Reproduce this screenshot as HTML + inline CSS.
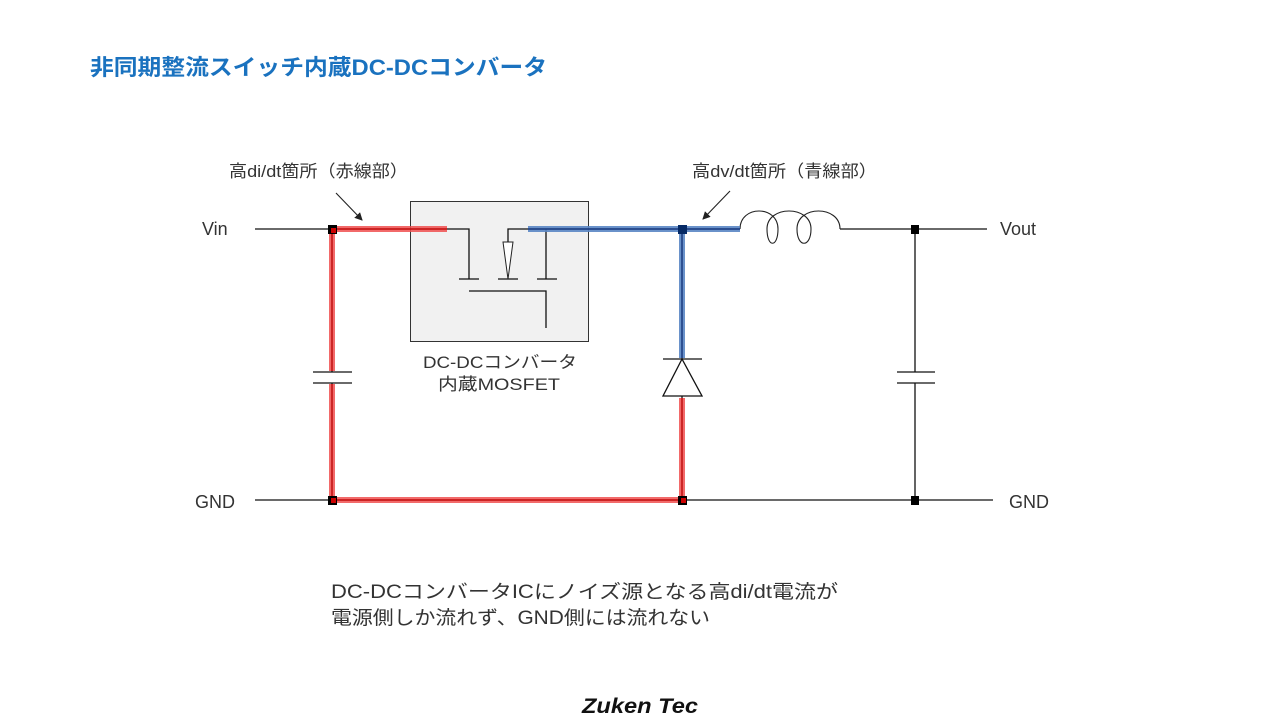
<!DOCTYPE html>
<html><head><meta charset="utf-8"><style>
html,body{margin:0;padding:0;background:#fff;width:1280px;height:720px;overflow:hidden}
svg{display:block}
text{font-family:"Liberation Sans","Noto Sans CJK JP",sans-serif;fill:#333}
</style></head><body>
<svg width="1280" height="720" viewBox="0 0 1280 720" xmlns="http://www.w3.org/2000/svg">
<defs><marker id="ah" markerWidth="8" markerHeight="8" refX="7" refY="4" orient="auto" markerUnits="userSpaceOnUse"><path d="M0,0 L8,4 L0,8 z" fill="#222"/></marker></defs>
<text x="90" y="75" font-size="22" font-weight="bold" style="fill:#1a72bf" textLength="457" lengthAdjust="spacingAndGlyphs">非同期整流スイッチ内蔵DC-DCコンバータ</text>

<rect x="410.5" y="201.5" width="178" height="140" fill="#f1f1f1" stroke="#333" stroke-width="1"/>

<g stroke="#111" stroke-width="1.3" fill="none">
<line x1="255" y1="229" x2="447" y2="229"/>
<polyline points="447,229 469,229 469,279"/>
<line x1="459" y1="279" x2="479" y2="279"/>
<line x1="498" y1="279" x2="518" y2="279"/>
<line x1="537" y1="279" x2="557" y2="279"/>
<polyline points="508,242 508,229 528,229"/>
<line x1="546" y1="229" x2="546" y2="279"/>
<polyline points="469,291 546,291 546,328"/>
<line x1="528" y1="229" x2="740" y2="229"/>
<line x1="840" y1="229" x2="987" y2="229"/>
<line x1="255" y1="500" x2="993" y2="500"/>
<line x1="332" y1="229" x2="332" y2="372"/>
<line x1="332" y1="383" x2="332" y2="500"/>
<line x1="313" y1="372" x2="352" y2="372"/>
<line x1="313" y1="383" x2="352" y2="383"/>
<line x1="915" y1="229" x2="915" y2="372"/>
<line x1="915" y1="383" x2="915" y2="500"/>
<line x1="897" y1="372" x2="935" y2="372"/>
<line x1="897" y1="383" x2="935" y2="383"/>
<line x1="682" y1="229" x2="682" y2="359"/>
<line x1="663" y1="359" x2="702" y2="359"/>
<line x1="682" y1="396" x2="682" y2="500"/>
</g>
<polygon points="503,242 513,242 508,279" fill="#fff" stroke="#222" stroke-width="1"/>
<polygon points="682,359 663,396 702,396" fill="#fff" stroke="#111" stroke-width="1.3"/>
<path d="M740,229 C740,205 778,205 778,229 C778,248 767,248 767,229 C767,205 811,205 811,229 C811,248 797,248 797,229 C797,205 840,205 840,229" fill="none" stroke="#222" stroke-width="1.1"/>

<g fill="none">
<path d="M447,229 L332,229 L332,371 M332,384 L332,500 L682,500 L682,398" stroke="#f05050" stroke-opacity="0.85" stroke-width="6"/>
<path d="M447,229 L332,229 L332,371 M332,384 L332,500 L682,500 L682,398" stroke="#b00" stroke-width="1.2"/>
<path d="M528,229 L740,229 M682,229 L682,358" stroke="#5a86c4" stroke-opacity="0.9" stroke-width="6"/>
<path d="M528,229 L740,229 M682,229 L682,358" stroke="#0a2a70" stroke-width="1.2"/>
</g>
<g fill="#000">
<rect x="328" y="225" width="9" height="9"/>
<rect x="678" y="225" width="9" height="9" fill="#062a66"/>
<rect x="911" y="225" width="8" height="9"/>
<rect x="328" y="496" width="9" height="9"/>
<rect x="678" y="496" width="9" height="9"/>
<rect x="911" y="496" width="8" height="9"/>
</g>
<rect x="331" y="228" width="5" height="5" fill="#c00"/>
<rect x="331" y="498" width="5" height="5" fill="#c00"/>
<rect x="681" y="498" width="5" height="5" fill="#c00"/>

<line x1="336" y1="193" x2="362" y2="220" stroke="#222" stroke-width="1.1" marker-end="url(#ah)"/>
<line x1="730" y1="191" x2="703" y2="219" stroke="#222" stroke-width="1.1" marker-end="url(#ah)"/>

<text x="229" y="177" font-size="17" textLength="179" lengthAdjust="spacingAndGlyphs">高di/dt箇所（赤線部）</text>
<text x="692" y="177" font-size="17" textLength="185" lengthAdjust="spacingAndGlyphs">高dv/dt箇所（青線部）</text>
<text x="202" y="235" font-size="18">Vin</text>
<text x="1000" y="235" font-size="18">Vout</text>
<text x="195" y="508" font-size="18">GND</text>
<text x="1009" y="508" font-size="18">GND</text>
<text x="423" y="368" font-size="17" textLength="154" lengthAdjust="spacingAndGlyphs">DC-DCコンバータ</text>
<text x="438" y="390" font-size="17" textLength="122" lengthAdjust="spacingAndGlyphs">内蔵MOSFET</text>
<text x="331" y="598" font-size="19" textLength="507" lengthAdjust="spacingAndGlyphs">DC-DCコンバータICにノイズ源となる高di/dt電流が</text>
<text x="331" y="624" font-size="19" textLength="379" lengthAdjust="spacingAndGlyphs">電源側しか流れず、GND側には流れない</text>
<text x="640" y="713" font-size="21" font-weight="bold" font-style="italic" text-anchor="middle" style="fill:#111" textLength="116" lengthAdjust="spacingAndGlyphs">Zuken Tec</text>
</svg>
</body></html>
